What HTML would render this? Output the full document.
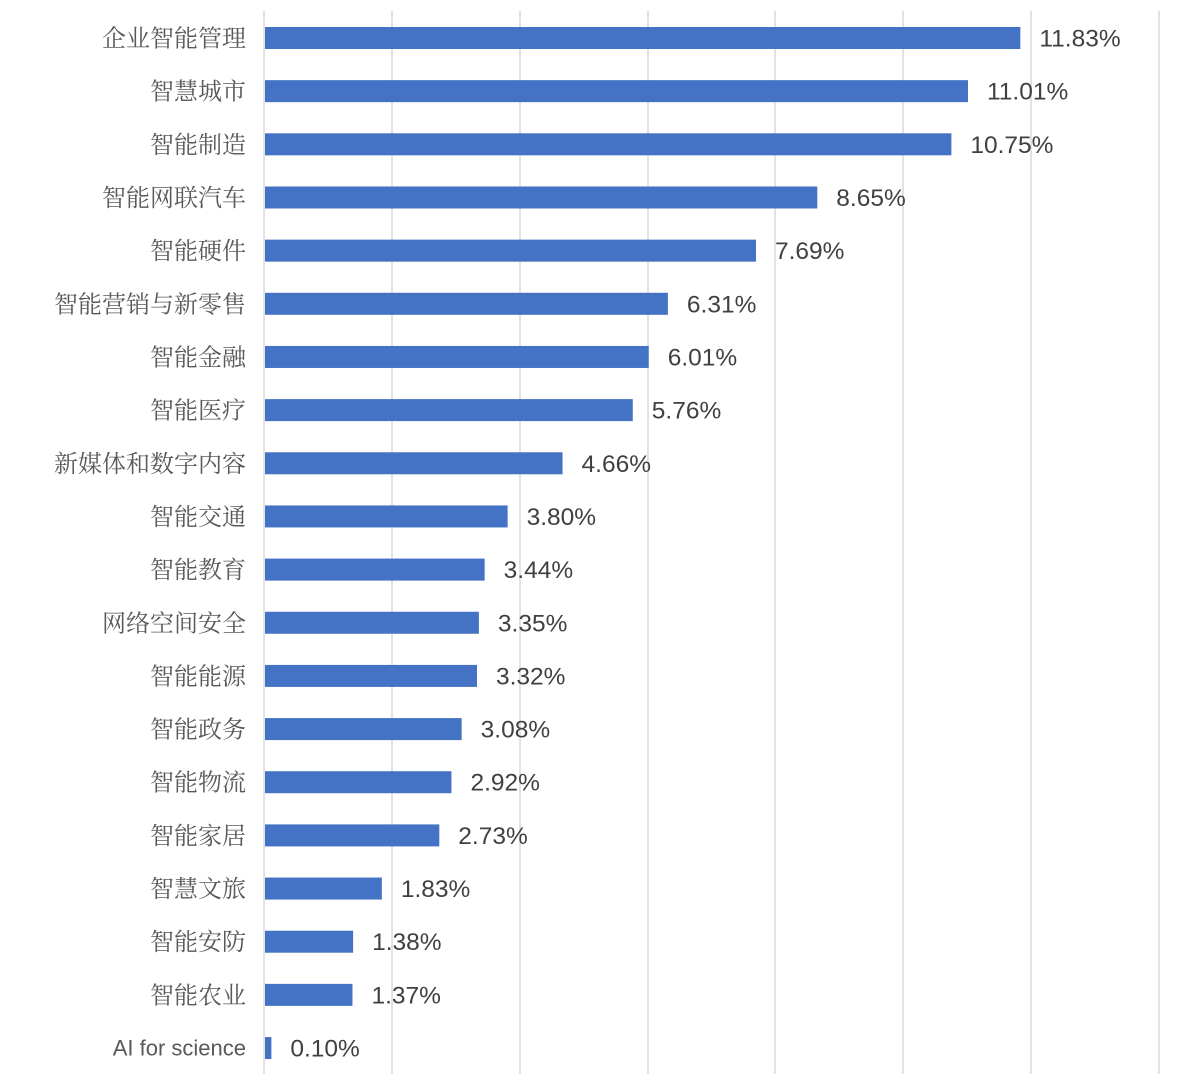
<!DOCTYPE html>
<html><head><meta charset="utf-8"><style>
html,body{margin:0;padding:0;background:#fff;}
svg{display:block}
.l{font-family:"Noto Serif CJK SC","WenQuanYi Zen Hei",serif;font-size:24px;fill:#595959;text-anchor:end;dominant-baseline:central}
.la{font-family:"Liberation Sans","Noto Sans CJK SC",sans-serif;font-size:22px;fill:#595959;text-anchor:end;dominant-baseline:central}
.v{font-family:"Liberation Sans",sans-serif;font-size:24.5px;fill:#404040;dominant-baseline:central}
</style></head><body>
<svg width="1183" height="1088" viewBox="0 0 1183 1088" xmlns="http://www.w3.org/2000/svg">
<g stroke="#d9d9d9" stroke-width="1.5">
<line x1="392" y1="11" x2="392" y2="1074"/><line x1="520" y1="11" x2="520" y2="1074"/>
<line x1="648" y1="11" x2="648" y2="1074"/><line x1="775" y1="11" x2="775" y2="1074"/>
<line x1="903" y1="11" x2="903" y2="1074"/><line x1="1031" y1="11" x2="1031" y2="1074"/>
<line x1="1159" y1="11" x2="1159" y2="1074"/><line x1="264" y1="11" x2="264" y2="1074"/>
</g>
<g id="c"></g>
</svg>
<script>
var d=[["企业智能管理",11.83],["智慧城市",11.01],["智能制造",10.75],["智能网联汽车",8.65],["智能硬件",7.69],["智能营销与新零售",6.31],["智能金融",6.01],["智能医疗",5.76],["新媒体和数字内容",4.66],["智能交通",3.80],["智能教育",3.44],["网络空间安全",3.35],["智能能源",3.32],["智能政务",3.08],["智能物流",2.92],["智能家居",2.73],["智慧文旅",1.83],["智能安防",1.38],["智能农业",1.37],["AI for science",0.10]];
var s="";
d.forEach(function(r,i){var y=38+i*53.16;var w=Math.max(6,r[1]*63.85);
s+='<rect x="265" y="'+(y-11)+'" width="'+w+'" height="22" fill="#4472c4"/>';
s+='<text class="'+(i==19?'la':'l')+'" x="246" y="'+(i==19?y:y-2)+'">'+r[0]+'</text>';
s+='<text class="v" x="'+(265+w+19)+'" y="'+(y+1)+'">'+r[1].toFixed(2)+'%</text>';});
document.getElementById("c").innerHTML=s;
</script>
</body></html>
